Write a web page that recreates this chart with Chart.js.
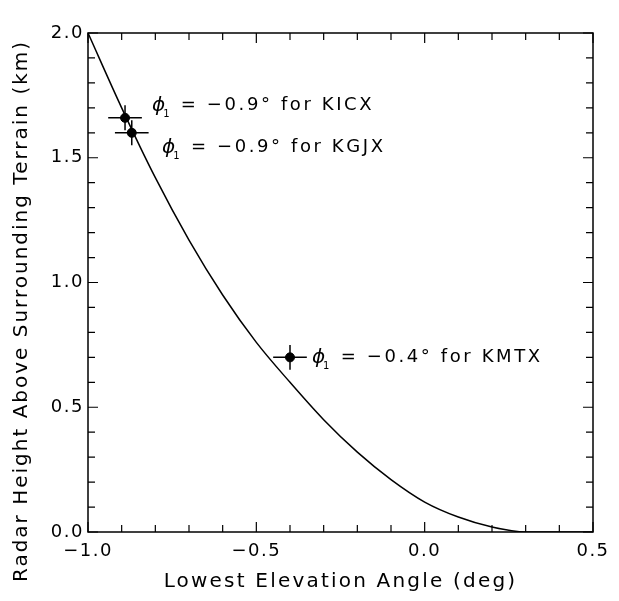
<!DOCTYPE html>
<html>
<head>
<meta charset="utf-8">
<script src="https://cdn.jsdelivr.net/npm/chart.js@4"></script>
<style>
  html, body { margin: 0; padding: 0; background: #fff; }
  #wrap { width: 619px; height: 601px; }
</style>
</head>
<body>
<div id="wrap"><canvas id="chart" width="619" height="601"></canvas></div>
<script>
// Theoretical curve
const curveX = [-1.0, -0.9, -0.8, -0.7, -0.6, -0.5, -0.4, -0.3, -0.2, -0.1, 0.0, 0.1, 0.2, 0.3, 0.4, 0.5];
const curveY = [2.0, 1.70, 1.42, 1.17, 0.95, 0.76, 0.60, 0.45, 0.32, 0.21, 0.12, 0.06, 0.02, 0.0, 0.0, 0.0];

// Radars with error bars
const radarNames = ['KICX', 'KGJX', 'KMTX'];
const radarAngles = ['−0.9', '−0.9', '−0.4'];
const radarX = [-0.89, -0.87, -0.40];
const radarY = [1.66, 1.60, 0.70];
const errX = [0.05, 0.05, 0.05];
const errY = [0.05, 0.05, 0.05];

// Where each annotation starts (data coords)
const labelX = [-0.81, -0.78, -0.335];
const labelY = [1.71, 1.54, 0.70];

const xTitle = 'Lowest Elevation Angle (deg)';
const yTitle = 'Radar Height Above Surrounding Terrain (km)';

const FONT = 'DejaVu Sans';

// Letter spacing for every text drawn by Chart.js
const spacing = {
  id: 'spacing',
  beforeDraw(chart) {
    chart.ctx.letterSpacing = '1.5px';
  }
};

// Draws the frame, inward ticks, error bars, titles and labels
const extras = {
  id: 'extras',
  afterDatasetsDraw(chart) {
    const ctx = chart.ctx;
    const xs = chart.scales.x;
    const ys = chart.scales.y;
    const a = chart.chartArea;

    ctx.save();
    ctx.strokeStyle = '#000';
    ctx.lineWidth = 1.5;
    ctx.strokeRect(a.left, a.top, a.right - a.left, a.bottom - a.top);

    // minor ticks every 0.1, major every 0.5
    ctx.lineWidth = 1.2;
    for (let i = Math.round(xs.min * 10); i <= Math.round(xs.max * 10); i++) {
      const px = xs.getPixelForValue(i / 10);
      const len = i % 5 === 0 ? 10 : 7;
      ctx.beginPath();
      ctx.moveTo(px, a.bottom); ctx.lineTo(px, a.bottom - len);
      ctx.moveTo(px, a.top); ctx.lineTo(px, a.top + len);
      ctx.stroke();
    }
    for (let i = Math.round(ys.min * 10); i <= Math.round(ys.max * 10); i++) {
      const py = ys.getPixelForValue(i / 10);
      const len = i % 5 === 0 ? 10 : 7;
      ctx.beginPath();
      ctx.moveTo(a.left, py); ctx.lineTo(a.left + len, py);
      ctx.moveTo(a.right, py); ctx.lineTo(a.right - len, py);
      ctx.stroke();
    }

    // error bars
    ctx.lineWidth = 1.5;
    radarX.forEach((x, i) => {
      const px = xs.getPixelForValue(x);
      const py = ys.getPixelForValue(radarY[i]);
      ctx.beginPath();
      ctx.moveTo(xs.getPixelForValue(x - errX[i]), py);
      ctx.lineTo(xs.getPixelForValue(x + errX[i]), py);
      ctx.moveTo(px, ys.getPixelForValue(radarY[i] - errY[i]));
      ctx.lineTo(px, ys.getPixelForValue(radarY[i] + errY[i]));
      ctx.stroke();
    });

    ctx.fillStyle = '#000';
    ctx.textBaseline = 'middle';

    // axis titles
    ctx.font = '20px ' + FONT;
    ctx.textAlign = 'center';
    ctx.letterSpacing = '2.2px';
    ctx.fillText(xTitle, (a.left + a.right) / 2, 582);
    ctx.letterSpacing = '2px';
    ctx.save();
    ctx.translate(22, 311);
    ctx.rotate(-Math.PI / 2);
    ctx.fillText(yTitle, 0, 0);
    ctx.restore();

    // labels: phi_1 = angle for NAME
    ctx.textAlign = 'left';
    labelX.forEach((lx, i) => {
      let px = xs.getPixelForValue(lx);
      const py = ys.getPixelForValue(labelY[i]);
      ctx.letterSpacing = '0px';
      ctx.font = 'italic 20px ' + FONT;
      ctx.fillText('ϕ', px, py);
      px += ctx.measureText('ϕ').width;
      ctx.font = '10px ' + FONT;
      ctx.fillText('1', px - 2, py + 9);
      px += ctx.measureText('1').width + 1;
      ctx.letterSpacing = '2.6px';
      ctx.font = '18px ' + FONT;
      ctx.fillText(' = ' + radarAngles[i] + '° for ' + radarNames[i], px, py);
    });
    ctx.restore();
  }
};

const ctx = document.getElementById('chart').getContext('2d');
new Chart(ctx, {
  type: 'scatter',
  data: {
    datasets: [
      {
        type: 'line',
        data: curveX.map((x, i) => ({ x: x, y: curveY[i] })),
        borderColor: '#000',
        borderWidth: 1.5,
        pointRadius: 0,
        fill: false,
        cubicInterpolationMode: 'monotone'
      },
      {
        data: radarX.map((x, i) => ({ x: x, y: radarY[i] })),
        backgroundColor: '#000',
        borderColor: '#000',
        pointRadius: 4.5,
        pointHoverRadius: 4.5
      }
    ]
  },
  options: {
    responsive: false,
    animation: false,
    events: [],
    layout: { padding: { top: 33, right: 26, left: 0, bottom: 0 } },
    plugins: { legend: { display: false }, tooltip: { enabled: false } },
    scales: {
      x: {
        type: 'linear',
        min: -1.0,
        max: 0.5,
        grid: { display: false, drawTicks: false },
        border: { display: false },
        ticks: {
          stepSize: 0.5,
          autoSkip: false,
          maxRotation: 0,
          padding: 9,
          color: '#000',
          font: { family: FONT, size: 18 },
          callback: v => v.toFixed(1).replace('-', '−')
        },
        afterFit: s => { s.height = 69; }
      },
      y: {
        type: 'linear',
        min: 0,
        max: 2.0,
        grid: { display: false, drawTicks: false },
        border: { display: false },
        ticks: {
          stepSize: 0.5,
          autoSkip: false,
          padding: 4,
          color: '#000',
          font: { family: FONT, size: 18 },
          callback: v => v.toFixed(1)
        },
        afterFit: s => { s.width = 88; }
      }
    }
  },
  plugins: [spacing, extras]
});
</script>
</body>
</html>
